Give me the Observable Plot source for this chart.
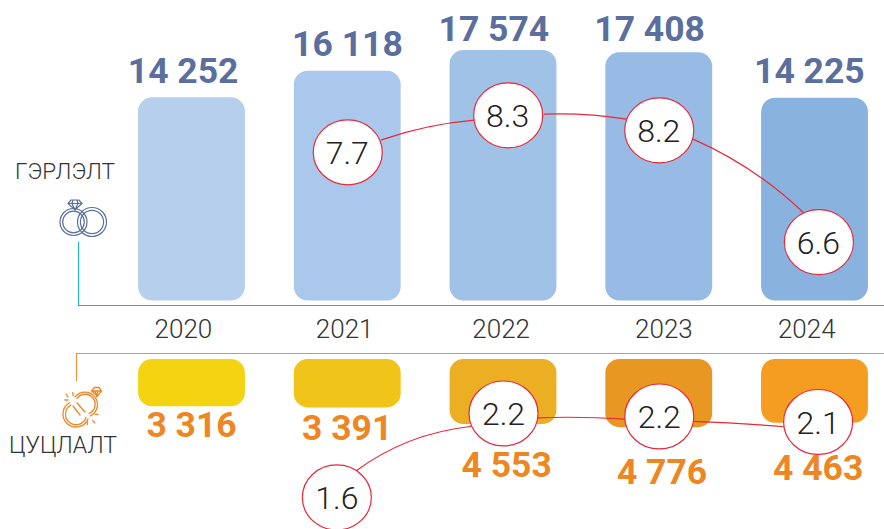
<!DOCTYPE html>
<html>
<head>
<meta charset="utf-8">
<script src="https://cdn.jsdelivr.net/npm/d3@7"></script>
<script src="https://cdn.jsdelivr.net/npm/@observablehq/plot@0.6"></script>
<style>
html,body{margin:0;padding:0;background:#fff;overflow:hidden}
#chart svg{display:block;overflow:visible;background:transparent}
</style>
</head>
<body>
<div id="chart"></div>
<script>
// Values
const years = [2020, 2021, 2022, 2023, 2024];
const marriages = [14252, 16118, 17574, 17408, 14225];
const divorces = [3316, 3391, 4553, 4776, 4463];
const marriageRateValues = [7.7, 8.3, 8.2, 6.6];
const divorceRateValues = [1.6, 2.2, 2.2, 2.1];

// Where each annotation sits, expressed on the chart's own scales
const yearTickX = [2019.945, 2020.98, 2021.985, 2023.03, 2023.947];
const marriageLabelX = [2019.943, 2020.998, 2021.938, 2022.938, 2023.964];
const marriageLabelY = [16100, 17990, 19040, 19040, 16100];
const marriageBubbleX = [2021, 2022.03, 2023, 2024.025];
const marriageBubbleY = [10430, 13020, 11970, 4130];
const divorceLabelX = [2019.997, 2020.996, 2022.02, 2023.018, 2024.02];
const divorceLabelY = [4620, 4830, 7420, 7910, 7630];
const divorceBubbleX = [2020.93, 2022, 2023, 2024.02];
const divorceBubbleY = [9660, 3780, 3990, 4375];
const yearTickY = -2030;
const barHalf = 0.343;

// Thin arcs between the bubbles: start/end on the same scales, and the bend in degrees
const marriageLinkX1 = [2021.217, 2022.263, 2023.217];
const marriageLinkX2 = [2021.812, 2022.790, 2023.928];
const marriageLinkY1 = [11305, 13104, 11354];
const marriageLinkY2 = [12684, 12754, 6174];
const marriageLinkBend = [7, 5.5, 10];
const divorceLinkX1 = [2021.050, 2022.220, 2023.215];
const divorceLinkX2 = [2021.788, 2022.779, 2023.804];
const divorceLinkY1 = [7819, 4081, 4340];
const divorceLinkY2 = [4690, 4179, 4711];
const divorceLinkBend = [15, 3, 1.5];

const marriageColors = ["#b5cfed", "#a9c8eb", "#a1c2e7", "#97bbe4", "#89b3de"];
const divorceColors = ["#f4d410", "#f0c419", "#ecae22", "#e99723", "#f49d20"];
const fontFamily = "Roboto, sans-serif";

const fmt = d3.formatLocale({decimal: ".", thousands: " ", grouping: [3], currency: ["", ""]}).format(",");

const marriageRows = years.map((year, i) => ({year, value: marriages[i], color: marriageColors[i], lx: marriageLabelX[i], ly: marriageLabelY[i], tx: yearTickX[i]}));
const divorceRows = years.map((year, i) => ({year, value: divorces[i], color: divorceColors[i], lx: divorceLabelX[i], ly: divorceLabelY[i]}));
const marriageBubbles = marriageRateValues.map((rate, i) => ({rate, x: marriageBubbleX[i], y: marriageBubbleY[i]}));
const divorceBubbles = divorceRateValues.map((rate, i) => ({rate, x: divorceBubbleX[i], y: divorceBubbleY[i]}));

// Slightly wider than tall bubble
const ovalSymbol = {
  draw(ctx, size) {
    const r = Math.sqrt(size / Math.PI), rx = r * 1.03, ry = r * 0.97, k = 0.5523;
    ctx.moveTo(rx, 0);
    ctx.bezierCurveTo(rx, ry * k, rx * k, ry, 0, ry);
    ctx.bezierCurveTo(-rx * k, ry, -rx, ry * k, -rx, 0);
    ctx.bezierCurveTo(-rx, -ry * k, -rx * k, -ry, 0, -ry);
    ctx.bezierCurveTo(rx * k, -ry, rx, -ry * k, rx, 0);
    ctx.closePath();
  }
};

function icon(markup, dy = 0) {
  return () => {
    const g = d3.create("svg:g").attr("transform", `translate(0,${dy})`);
    g.html(markup);
    return g.node();
  };
}

const blue = "#5b6f9e", orange = "#ec8723", red = "#e9283a";

const weddingIcon = icon(`
<g fill="none" stroke="${blue}" stroke-width="1.2">
  <circle cx="73.5" cy="222" r="13.5"/><circle cx="73.5" cy="222" r="10.8"/>
  <circle cx="92" cy="222" r="14.5"/><circle cx="92" cy="222" r="11.6"/>
  <path d="M68 203.5 l3-3.5 h8 l3 3.5 l-7 6.5z M68 203.5 h14 M72 203.5 l3 6.5 l3-6.5 M73 200 l-1 3.5 M77 200 l1 3.5"/>
</g>`);

const divorceIcon = icon(`
<g fill="none" stroke="${orange}" stroke-width="1.3" stroke-linecap="round">
  <path d="M69.5 402.7 A13 13 0 1 0 88 418.9 M71 405 A10.5 10.5 0 1 0 86 417.5"/>
  <path d="M75 397 A12.5 12.5 0 1 1 90 416 M77 398.5 A10 10 0 1 1 89 413.5"/>
  <path d="M73 406 L80 415 M77 403 L85 412"/>
  <path d="M91.5 391 l3-3.5 h4.5 l2.5 3.5 l-4 5z M91.5 391 h10 M95 391 l1.5 5 l1.5-5"/>
  <path d="M66 394 l2 3 M72.7 392.7 l.5 3 M65 400 h3 M95 414.3 h3 M92.7 420.7 l2 2 M87.3 421.7 v3"/>
</g>`, -340);

const ovalDot = rows => Plot.dot(rows, {x: "x", y: "y", r: 33.5, symbol: ovalSymbol, fill: "#fff", stroke: red, strokeWidth: 1.2});

const links = (x1, y1, x2, y2, bends) => bends.map((bend, i) =>
  Plot.arrow([0], {x1: () => x1[i], y1: () => y1[i], x2: () => x2[i], y2: () => y2[i], bend, headLength: 0, stroke: red, strokeWidth: 1.2}));

const upperPlot = Plot.plot({
  width: 884, height: 340,
  marginLeft: 78, marginRight: 0, marginTop: 242, marginBottom: 35,
  x: {type: "linear", domain: [2020, 2024], range: [191.5, 814.5], axis: null},
  y: {type: "linear", domain: [0, 17574], range: [300.5, 50], axis: null},
  style: {fontFamily, background: "transparent"},
  marks: [
    Plot.frame({anchor: "left", stroke: "#1fb1c9", strokeWidth: 1.1}),
    Plot.frame({anchor: "bottom", stroke: "#1fb1c9", strokeWidth: 1.1}),
    Plot.rect(marriageRows, {x1: d => d.year - barHalf, x2: d => d.year + barHalf, y1: 0, y2: "value", fill: d => d.color, r: 14}),
    Plot.text(marriageRows, {x: "lx", y: "ly", text: d => fmt(d.value), fontSize: 35.5, fontWeight: 700, fill: blue}),
    Plot.text(marriageRows, {x: "tx", y: () => yearTickY, text: d => String(d.year), fontSize: 26, fontWeight: 300, fill: "#333"}),
    ...links(marriageLinkX1, marriageLinkY1, marriageLinkX2, marriageLinkY2, marriageLinkBend),
    ovalDot(marriageBubbles),
    Plot.text(marriageBubbles, {x: "x", y: "y", dy: 1.5, dx: -0.5, text: d => d.rate.toFixed(1), fontSize: 32, fontWeight: 300, fill: "#222"}),
    Plot.text(["ГЭРЛЭЛТ"], {x: () => 2020 - 127 / 155.75, y: () => 129 * 70, text: d => d, fontSize: 22.5, fontWeight: 300, fill: "#333"}),
    weddingIcon
  ]
});

const lowerPlot = Plot.plot({
  width: 884, height: 189,
  marginLeft: 76, marginRight: 0, marginTop: 13, marginBottom: 149,
  x: {type: "linear", domain: [2020, 2024], range: [191.5, 814.5], axis: null},
  y: {type: "linear", domain: [0, 4776], range: [19, 87.2], axis: null},
  style: {fontFamily, background: "transparent"},
  marks: [
    Plot.frame({anchor: "left", stroke: "#f0913a", strokeWidth: 1.1}),
    Plot.frame({anchor: "top", stroke: "#f0913a", strokeWidth: 1.1}),
    Plot.rect(divorceRows, {x1: d => d.year - barHalf, x2: d => d.year + barHalf, y1: 0, y2: "value", fill: d => d.color, r: 14}),
    Plot.text(divorceRows, {x: "lx", y: "ly", text: d => fmt(d.value), fontSize: 35.5, fontWeight: 700, fill: orange}),
    ...links(divorceLinkX1, divorceLinkY1, divorceLinkX2, divorceLinkY2, divorceLinkBend),
    ovalDot(divorceBubbles),
    Plot.text(divorceBubbles, {x: "x", y: "y", dy: 1.5, dx: 0, text: d => d.rate.toFixed(1), fontSize: 32, fontWeight: 300, fill: "#222"}),
    Plot.text(["ЦУЦЛАЛТ"], {x: () => 2020 - 129 / 155.75, y: () => 86 * 70, text: d => d, fontSize: 23, fontWeight: 300, fill: "#333"}),
    divorceIcon
  ]
});

document.getElementById("chart").append(upperPlot, lowerPlot);
</script>
</body>
</html>
